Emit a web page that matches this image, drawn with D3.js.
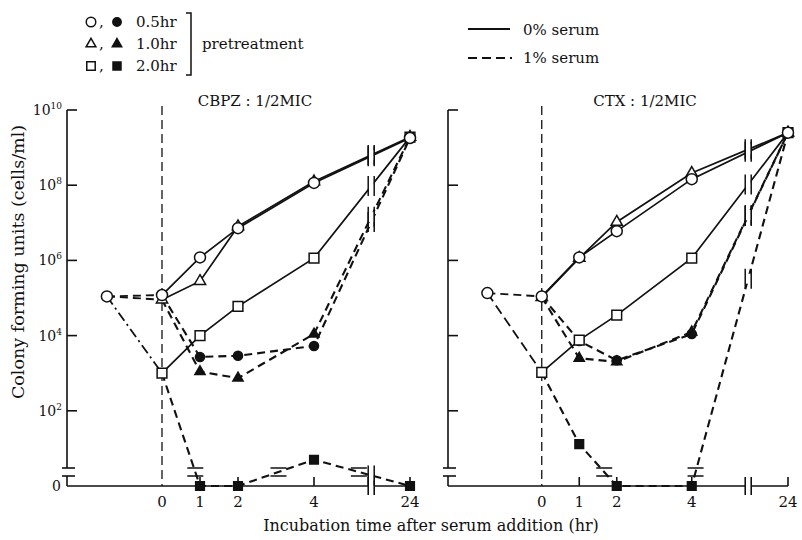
<!DOCTYPE html>
<html>
<head>
<meta charset="utf-8">
<script src="https://cdn.jsdelivr.net/npm/d3@7"></script>
<style>
  body { margin: 0; background: #fff; }
  text { font-family: "DejaVu Serif", "Liberation Serif", serif; fill: #111; }
</style>
</head>
<body>
<svg id="chart" width="802" height="540"></svg>
<script>
// sampling times (hr after serum addition); the pretreatment start sits left of 0
const hours = [0, 1, 2, 4, 24];
const startHour = -1.45;
const xTickValues = [0, 1, 2, 4, 24];
const yTickValues = [1e2, 1e4, 1e6, 1e8, 1e10];
const yTickExp = ["2", "4", "6", "8", "10"];

// CBPZ : 1/2MIC
const cbpzStart = 1.1e5;
const cbpzOpen05 = [1.2e5, 1.2e6, 7.2e6, 1.15e8, 1.8e9];
const cbpzOpen10 = [9e4, 2.8e5, 8e6, 1.25e8, 1.9e9];
const cbpzOpen20 = [1e3, 1e4, 6e4, 1.15e6, 1.9e9];
const cbpzFill05 = [1.2e5, 2.7e3, 2.9e3, 5.3e3, 1.8e9];
const cbpzFill10 = [9e4, 1.1e3, 7.4e2, 1.1e4, 1.9e9];
const cbpzFill20 = [1e3, 0, 0, 5, 0];

// CTX : 1/2MIC
const ctxStart = 1.35e5;
const ctxOpen05 = [1.1e5, 1.2e6, 6e6, 1.45e8, 2.5e9];
const ctxOpen10 = [1.05e5, 1.15e6, 1.05e7, 2.1e8, 2.5e9];
const ctxOpen20 = [1.05e3, 7.6e3, 3.5e4, 1.15e6, 2.5e9];
const ctxFill05 = [1.1e5, 7.2e3, 2.2e3, 1.1e4, 2.5e9];
const ctxFill10 = [1.05e5, 2.5e3, 2e3, 1.25e4, 2.5e9];
const ctxFill20 = [1.05e3, 13, 0, 0, 2.5e9];

const svg = d3.select("#chart");
const ink = "#111";

// log scale, value 0 is drawn on the baseline (below the axis break)
const yScale = d3.scaleLog().domain([1, 1e10]).range([486, 110]);
const yv = v => v === 0 ? yScale(1) : yScale(v);
const yBreak = 472;

const shapes = { circle: d3.symbolCircle, triangle: d3.symbolTriangle, square: d3.symbolSquare };
const openSize = { circle: 95, triangle: 55, square: 95 };
const fillSize = { circle: 65, triangle: 45, square: 75 };

function marker(g, shape, filled, x, y, scale) {
  const k = scale || 1;
  g.append("path")
    .attr("d", d3.symbol().type(shapes[shape]).size((filled ? fillSize[shape] : openSize[shape]) * k)())
    .attr("transform", "translate(" + x + "," + y + ")")
    .attr("fill", filled ? ink : "#fff")
    .attr("stroke", ink)
    .attr("stroke-width", 1.5);
}

function drawPanel(opt) {
  const g = svg.append("g");
  const x = d3.scaleLinear().domain([-2.5, 5.5, 24]).range(opt.xRange);
  const left = opt.xRange[0], right = opt.xRange[2];
  const bx = x(5.6);

  const series = [
    { shape: "circle", filled: false, values: opt.open05 },
    { shape: "triangle", filled: false, values: opt.open10 },
    { shape: "square", filled: false, values: opt.open20 },
    { shape: "circle", filled: true, values: opt.fill05 },
    { shape: "triangle", filled: true, values: opt.fill10 },
    { shape: "square", filled: true, values: opt.fill20 }
  ];

  // y axis with break
  g.append("line").attr("x1", left).attr("x2", left).attr("y1", yScale(1e10)).attr("y2", yBreak - 4)
    .attr("stroke", ink).attr("stroke-width", 1.6);
  g.append("line").attr("x1", left).attr("x2", left).attr("y1", yBreak + 4).attr("y2", 486)
    .attr("stroke", ink).attr("stroke-width", 1.6);
  [yBreak - 4, yBreak + 4].forEach(yy => {
    g.append("line").attr("x1", left - 5).attr("x2", left + 8).attr("y1", yy).attr("y2", yy)
      .attr("stroke", ink).attr("stroke-width", 1.6);
  });
  yTickValues.forEach(v => {
    g.append("line").attr("x1", left).attr("x2", left + 10).attr("y1", yScale(v)).attr("y2", yScale(v))
      .attr("stroke", ink).attr("stroke-width", 1.6);
  });
  if (opt.yLabels) {
    yTickValues.forEach((v, i) => {
      const t = g.append("text").attr("x", left - 5).attr("y", yScale(v) + 5)
        .attr("text-anchor", "end").attr("font-size", 14);
      t.append("tspan").text("10");
      t.append("tspan").attr("dy", -6).attr("font-size", 9).text(yTickExp[i]);
    });
    g.append("text").attr("x", left - 6).attr("y", 491).attr("text-anchor", "end")
      .attr("font-size", 14).text("0");
  }

  // x axis with break
  g.append("line").attr("x1", left).attr("x2", bx - 3).attr("y1", 486).attr("y2", 486)
    .attr("stroke", ink).attr("stroke-width", 1.6);
  g.append("line").attr("x1", bx + 3).attr("x2", right).attr("y1", 486).attr("y2", 486)
    .attr("stroke", ink).attr("stroke-width", 1.6);
  [bx - 3, bx + 3].forEach(xx => {
    g.append("line").attr("x1", xx).attr("x2", xx).attr("y1", 477).attr("y2", 495)
      .attr("stroke", ink).attr("stroke-width", 1.6);
  });
  xTickValues.forEach(v => {
    if (v !== 0) {
      g.append("line").attr("x1", x(v)).attr("x2", x(v)).attr("y1", 486).attr("y2", 477)
        .attr("stroke", ink).attr("stroke-width", 1.6);
    }
    g.append("text").attr("x", x(v)).attr("y", 507).attr("text-anchor", "middle")
      .attr("font-size", 15).text(v);
  });

  // serum addition marker at 0 hr
  g.append("line").attr("x1", x(0)).attr("x2", x(0)).attr("y1", 106).attr("y2", 486)
    .attr("stroke", ink).attr("stroke-width", 1.3).attr("stroke-dasharray", "9,5");

  g.append("text").attr("x", opt.titleX).attr("y", 106).attr("text-anchor", "middle")
    .attr("font-size", 15).text(opt.title);

  const line = d3.line().x(d => x(d[0])).y(d => yv(d[1]));

  // pretreatment segments
  series.filter(s => !s.filled).forEach(s => {
    if (!opt.preTriangle && s.shape === "triangle") return;
    g.append("path").attr("d", line([[startHour, opt.start], [0, s.values[0]]]))
      .attr("fill", "none").attr("stroke", ink).attr("stroke-width", 1.8)
      .attr("stroke-dasharray", s.shape === "square" ? opt.preSquareDash : "8,5");
  });

  // series lines
  series.forEach(s => {
    const pts = hours.map((h, i) => [h, s.values[i]]);
    g.append("path").attr("d", line(pts))
      .attr("fill", "none").attr("stroke", ink)
      .attr("stroke-width", s.filled ? 2.1 : 1.7)
      .attr("stroke-dasharray", s.filled ? "8,5" : null);

    // break marks where the line crosses the x break
    const x4 = x(4), y4 = yv(s.values[3]), x24 = x(24), y24 = yv(s.values[4]);
    const by = y4 + (bx - x4) / (x24 - x4) * (y24 - y4);
    g.append("rect").attr("x", bx - 2.5).attr("y", by - 5).attr("width", 5).attr("height", 10).attr("fill", "#fff");
    [bx - 3, bx + 3].forEach(xx => {
      g.append("line").attr("x1", xx).attr("x2", xx).attr("y1", by - 10).attr("y2", by + 10)
        .attr("stroke", ink).attr("stroke-width", 1.5);
    });

    // break marks where the line crosses the y break (to or from zero)
    for (let i = 0; i < pts.length - 1; i++) {
      const a = pts[i], b = pts[i + 1];
      if ((a[1] === 0) !== (b[1] === 0)) {
        const ya = yv(a[1]), yb = yv(b[1]);
        const t = (yBreak - ya) / (yb - ya);
        const cx = x(a[0]) + t * (x(b[0]) - x(a[0]));
        [yBreak - 4, yBreak + 4].forEach(yy => {
          g.append("line").attr("x1", cx - 8).attr("x2", cx + 8).attr("y1", yy).attr("y2", yy)
            .attr("stroke", ink).attr("stroke-width", 1.5);
        });
      }
    }
  });

  // markers
  marker(g, "circle", false, x(startHour), yv(opt.start));
  series.slice().reverse().forEach(s => {
    hours.forEach((h, i) => {
      if (i === 0 && s.filled) return;
      marker(g, s.shape, s.filled, x(h), yv(s.values[i]));
    });
  });
}

drawPanel({
  title: "CBPZ : 1/2MIC", titleX: 255, xRange: [67, 371, 410], yLabels: true,
  start: cbpzStart, preTriangle: true, preSquareDash: "10,4,2,4",
  open05: cbpzOpen05, open10: cbpzOpen10, open20: cbpzOpen20,
  fill05: cbpzFill05, fill10: cbpzFill10, fill20: cbpzFill20
});
drawPanel({
  title: "CTX : 1/2MIC", titleX: 645, xRange: [448, 748, 788], yLabels: false,
  start: ctxStart, preTriangle: false, preSquareDash: "10,5",
  open05: ctxOpen05, open10: ctxOpen10, open20: ctxOpen20,
  fill05: ctxFill05, fill10: ctxFill10, fill20: ctxFill20
});

// axis titles
svg.append("text").attr("x", 431).attr("y", 531).attr("text-anchor", "middle")
  .attr("font-size", 16).text("Incubation time after serum addition (hr)");
svg.append("text").attr("transform", "translate(24,262) rotate(-90)").attr("text-anchor", "middle")
  .attr("font-size", 17.5).text("Colony forming units (cells/ml)");

// legend: pretreatment time
const legendRows = [["circle", "0.5hr"], ["triangle", "1.0hr"], ["square", "2.0hr"]];
const lg = svg.append("g");
legendRows.forEach((r, i) => {
  const yy = 22 + i * 22;
  marker(lg, r[0], false, 91, yy, 0.75);
  lg.append("text").attr("x", 99).attr("y", yy + 5).attr("font-size", 15).text(",");
  marker(lg, r[0], true, 117, yy, 0.85);
  lg.append("text").attr("x", 136).attr("y", yy + 5).attr("font-size", 15).text(r[1]);
});
lg.append("path").attr("d", "M186,13 L191,13 L191,75 L186,75")
  .attr("fill", "none").attr("stroke", ink).attr("stroke-width", 1.5);
lg.append("text").attr("x", 202).attr("y", 49).attr("font-size", 15).text("pretreatment");

// legend: serum
lg.append("line").attr("x1", 468).attr("x2", 510).attr("y1", 29).attr("y2", 29)
  .attr("stroke", ink).attr("stroke-width", 1.8);
lg.append("line").attr("x1", 468).attr("x2", 512).attr("y1", 58).attr("y2", 58)
  .attr("stroke", ink).attr("stroke-width", 2.2).attr("stroke-dasharray", "9,5");
lg.append("text").attr("x", 523).attr("y", 35).attr("font-size", 15).text("0% serum");
lg.append("text").attr("x", 523).attr("y", 63).attr("font-size", 15).text("1% serum");
</script>
</body>
</html>
